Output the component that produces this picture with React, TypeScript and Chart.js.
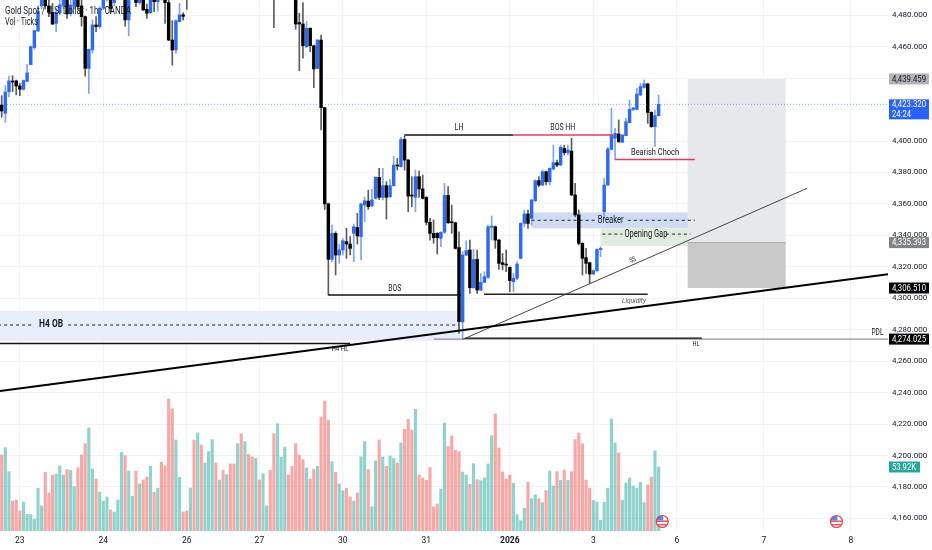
import React, { useEffect, useRef } from "react";
import { Chart, registerables } from "chart.js";

Chart.register(...registerables);

const opens = [4422.9,4417.6,4431.4,4438.2,4438.2,4435.0,4432.9,4437.9,4448.6,4459.4,4470.0,4485.9,4492,4485.9,4481.8,4474.8,4481.6,4486,4492,4481,4486,4491,4485.9,4479.1,4446.2,4457.9,4473.8,4472.7,4484.4,4491,4497,4488,4494,4499,4503,4477,4494,4498,4488,4494,4483.7,4481.6,4494,4488.6,4493,4490.5,4488,4464.2,4457.9,4475.9,4480.2,4492,
4490,4497,4494,4502,4498,4505,4511,4518,4514,4520,4515,4523,4518,4512,4520,4513,4522,4516,4510,4517,4511,4516,4520,4510,4500,4506,4510,4513,4507,4500,
4475.3,4474.4,4460,4471.7,4460.6,4446.2,4464.2,4421.2,4360,4324.7,4341.3,4327.5,4330.7,4336,4334.5,4341.3,4345,4339.2,4359.3,4361.8,4358.7,4363.5,4376.9,4364.2,4371.6,4364.6,4371.6,4384.7,4383.7,4401,4387.9,4365.6,4364.2,4377.3,4369.5,4364.2,4348.3,4341.3,4341.3,4338.1,4342,4365.4,4348.7,4348,4332.2,4285,4327.5,4330.7,4306.7,4324.7,4305.2,4310.1,4313.3,4345.1,4345.5,4337,4322.6,4321.5,4319.6,4310.5,4312.7,4325.4,4347.6,4353.6,4350.8,4362,4374.8,4372,4380.5,4374.1,4382.2,4386.2,4384.7,4395.3,4392.6,4393.6,4365.7,4353,4334.9,4325.8,4322.6,4315.4,4317.5,4331,4355,4372,4394.7,4401.7,4404.4,4399.2,4403.4,4411.7,4420.1,4420.1,4429.3,4434.1,4436.3,4418.2,4409.1,4416.1];
const highs = [4428.8,4435.2,4441.3,4441.5,4438.8,4436.7,4438.8,4448.8,4460.4,4470.6,4485.9,4496,4496,4492,4487.5,4484.4,4491,4497,4497,4492,4496,4496,4493,4479.5,4458.6,4477,4479.1,4485.4,4495,4503,4501,4499,4503,4507,4507,4498,4504,4503,4498,4498,4487,4498,4498,4497,4498,4494,4490,4476.5,4477,4487.5,4481.6,4494,
4500,4499,4506,4504,4509,4515,4522,4521,4524,4523,4527,4526,4520,4524,4523,4527,4525,4519,4521,4520,4519,4524,4522,4513,4510,4514,4517,4516,4509,4503,
4481.2,4488,4475.9,4472,4461,4464.6,4467.4,4421.5,4360.5,4346.6,4342.3,4334.5,4338,4344.5,4339.2,4347.2,4354,4360.5,4364.2,4368.8,4369.2,4377.3,4382.6,4382.6,4374.1,4375.6,4390.4,4389,4402.3,4403,4388.3,4377.3,4381.5,4380.9,4378.4,4364.6,4350.8,4349.8,4341.7,4342.3,4373.1,4371,4359.3,4348.4,4342.3,4329.6,4336.6,4337,4331,4330.7,4315.8,4316.9,4346.6,4352.3,4346,4337.5,4328.5,4330.7,4320,4315.8,4323.3,4348,4356.1,4356.1,4362.9,4375.2,4377.3,4381.6,4380.9,4383,4397.4,4387.9,4397.4,4397.4,4397.4,4401.7,4373.1,4356.1,4335.3,4331.7,4323,4318,4331.4,4332.8,4376.2,4396,4420.8,4408,4413.4,4404.2,4414.4,4426,4421.4,4433.5,4436.7,4438.8,4436.7,4418.6,4419.7,4429.3];
const lows = [4415.1,4411.9,4428.2,4431.4,4429.3,4428.9,4432.4,4437.7,4448.5,4458.3,4469.6,4484,4484,4479.1,4474,4469.6,4480.2,4484,4478,4479.5,4484,4483.7,4473.1,4441.3,4430.3,4455.8,4469.6,4471.7,4483.5,4489,4481.2,4486,4492,4497,4473.1,4466.8,4492,4485.4,4487,4483,4478,4481,4482.3,4482.5,4489.7,4474.8,4463.8,4448.3,4455.8,4475.7,4476.9,4483.7,
4491,4492,4492,4496,4497,4503,4509,4511,4512,4512,4513,4516,4509,4510,4510,4511,4513,4507,4508,4508,4509,4514,4505,4472,4497,4504,4508,4504,4495,4471,
4444.7,4452.6,4459.4,4456.8,4433.9,4445.8,4407,4356.5,4302,4323.3,4314.8,4322.2,4327.5,4325.4,4327.5,4323.3,4334.5,4324.3,4348.7,4356.5,4358.2,4363.1,4362.9,4362.5,4350.4,4364.2,4371.2,4381.5,4383.3,4381.5,4355,4358.2,4355,4364.2,4363.1,4346.6,4337,4335,4328.1,4332.8,4341.3,4347.6,4341.3,4331.3,4277.7,4274,4327,4303.1,4306.3,4303.1,4304.8,4309.9,4312.6,4337,4331.7,4318.4,4318,4316.9,4304.2,4304.2,4311.6,4325,4345.5,4344.4,4346.6,4361.6,4371,4371.6,4372,4372,4381.5,4383.7,4384.3,4391.1,4391.1,4365.2,4351.9,4333.9,4314.8,4315.8,4309.5,4315,4317,4326.4,4350.8,4371.6,4394.3,4388.3,4399,4399,4403.2,4411.3,4419.3,4419.7,4428.8,4433.5,4411.2,4408.7,4396.4,4415.7];
const closes = [4419.1,4431.2,4438.2,4437.5,4435.0,4432.9,4438.4,4443.3,4460.0,4470.2,4482.3,4492,4486,4481.8,4474.4,4481.6,4486.5,4492,4480.8,4486.5,4491,4485.4,4479.1,4446.2,4458.3,4473.8,4472.7,4484.4,4491,4498,4484.4,4494,4499,4503,4477,4494,4500,4488,4494,4483.3,4481.2,4494,4488.6,4493,4490.5,4488,4464.2,4457.9,4476.5,4480.2,4479.3,4490,
4497,4494,4502,4498,4505,4511,4518,4514,4520,4515,4523,4518,4512,4520,4513,4522,4516,4510,4517,4511,4516,4520,4510,4500,4506,4510,4513,4507,4500,4474.4,
4474.4,4460.6,4471.7,4460.6,4445.8,4464.2,4421.2,4360,4324.8,4341.3,4327.5,4330.7,4336.6,4334.5,4331.7,4345.5,4339.6,4360,4362,4358.2,4362.5,4376.9,4364.2,4371.6,4364.2,4371.6,4384.7,4384.1,4401,4387.9,4365,4365,4377.3,4369.5,4363.5,4348.3,4341.3,4338.5,4338.5,4342,4365.4,4348,4348,4331.7,4285.1,4327.5,4330.3,4306.7,4324.7,4305.2,4310.1,4313.7,4345.5,4345.9,4337,4322.2,4321.5,4321.1,4311.2,4312.7,4321.8,4347.6,4353.6,4347.6,4362.5,4374.8,4372,4380.5,4374.1,4382.6,4386.2,4384.7,4396,4392.6,4394.3,4365.7,4353,4334.9,4325.4,4322.2,4315.4,4317.5,4331,4331.7,4372,4394.9,4403.8,4404.9,4399.6,4403.8,4412.3,4420.1,4421,4429.9,4434.6,4436.3,4418.2,4409.1,4416.1,4423.32];
const volumes = [64.0,70.2,50.0,25.3,26.1,16.9,24.4,14.0,14.0,9.8,36.0,21.1,49.4,32.0,46.9,48.0,54.8,47.2,51.7,51.1,37.4,53.4,64.0,73.6,86.8,52.2,43.8,32.9,25.0,28.7,17.7,16.0,26.1,66.3,63.5,50.6,29.2,50.6,39.6,43.0,45.5,54.5,32.6,36.0,57.9,54.8,111.2,102.8,76.7,45.2,16.0,16.9,36.2,76.7,82.6,72.5,57.3,66.9,77.0,57.3,43.0,51.1,47.5,56.5,56.5,73.6,82.0,75.3,64.6,62.4,61.2,43.0,48.3,21.1,51.1,82.0,90.4,62.4,70.8,47.2,54.5,73.6,64.0,60.1,53.1,43.8,52.2,54.5,96.1,109.3,93.5,58.4,49.4,39.6,34.0,36.0,28.7,25.3,32.0,62.6,75.3,51.7,20.5,59.0,76.7,62.4,54.5,63.2,61.2,57.3,74.2,85.7,94.1,85.1,102.5,47.2,44.7,42.7,53.4,20.2,22.8,35.4,91.0,71.3,80.1,68.0,66.9,49.7,47.2,39.3,56.7,43.3,42.4,44.7,56.5,80.3,98.6,69.9,49.7,43.8,47.2,40.2,13.8,8.7,19.1,41.0,27.2,30.6,27.2,23.9,34.0,50.6,37.9,50.0,42.7,51.4,42.7,50.0,77.0,82.6,73.6,43.0,36.0,25.8,24.4,9.0,24.2,36.0,94.4,74.2,65.7,25.8,40.4,44.7,37.9,36.2,41.0,23.9,38.8,45.5,67.4,53.92];

const xTickValues = [5, 28, 51, 71, 94, 117, 140, 163, 186, 210, 234];
const xTickLabels = ["23", "24", "26", "27", "30", "31", "2026", "3", "6", "7", "8"];
const yTickValues = [4160,4180,4200,4220,4240,4260,4280,4300,4320,4340,4360,4380,4400,4420,4440,4460,4480];
const flagBars = [182, 230];

const BLUE = "#2962ff";
const TEXT = "#131722";
const RED_LINE = "#e23c5c";
const FONT = "Roboto, sans-serif";

// Drawings, all in chart values: bar index and price.
const rects = [
  { x1: -1, x2: 126.2, p1: 4291.9, p2: 4273, fill: "#e6eefb" },
  { x1: 146, x2: 191, p1: 4354.6, p2: 4344.5, fill: "#cfdcf6" },
  { x1: 165, x2: 189.8, p1: 4344.5, p2: 4333.2, fill: "#dfeedc" },
  { x1: 189, x2: 216, p1: 4439.459, p2: 4335.393, fill: "#e6e8eb" },
  { x1: 189, x2: 216, p1: 4335.393, p2: 4306.51, fill: "#c9c9c9" },
];
const lines = [
  { x1: -1, p1: 4423.32, x2: 245, p2: 4423.32, color: "rgba(41,98,255,0.6)", w: 1, dash: [1, 2] },
  { x1: -1, p1: 4283, x2: 8.4, p2: 4283, color: "#222", w: 1, dash: [3, 3] },
  { x1: 18.3, p1: 4283, x2: 126, p2: 4283, color: "#222", w: 1, dash: [3, 3] },
  { x1: 146, p1: 4349.6, x2: 163.5, p2: 4349.6, color: "#222", w: 1, dash: [3, 3] },
  { x1: 172.5, p1: 4349.6, x2: 191, p2: 4349.6, color: "#222", w: 1, dash: [3, 3] },
  { x1: 165.5, p1: 4340.8, x2: 171, p2: 4340.8, color: "#222", w: 1, dash: [3, 3] },
  { x1: 183, p1: 4340.8, x2: 189.8, p2: 4340.8, color: "#222", w: 1, dash: [3, 3] },
  { x1: 189, p1: 4335.393, x2: 216, p2: 4335.393, color: "#a9a9a9", w: 1 },
  { x1: -1, p1: 4271.3, x2: 96, p2: 4271.3, color: "#111", w: 1.5 },
  { x1: -0.47, p1: 4241, x2: 244.2, p2: 4315.2, color: "#000", w: 2 },
  { x1: 127.1, p1: 4273.9, x2: 221.9, p2: 4369.9, color: "#444", w: 1 },
  { x1: 90, p1: 4302, x2: 126.5, p2: 4302, color: "#111", w: 1.5 },
  { x1: 110.9, p1: 4403.8, x2: 140.9, p2: 4403.8, color: "#111", w: 1.5 },
  { x1: 140.9, p1: 4403.8, x2: 168.5, p2: 4403.8, color: RED_LINE, w: 1.5 },
  { x1: 169, p1: 4388.3, x2: 191, p2: 4388.3, color: RED_LINE, w: 1.5 },
  { x1: 132.9, p1: 4302.5, x2: 178, p2: 4302.5, color: "#222", w: 1.5 },
  { x1: 119.1, p1: 4274.025, x2: 245, p2: 4274.025, color: "#777", w: 1 },
  { x1: 127.6, p1: 4274.5, x2: 192.9, p2: 4274.5, color: "#111", w: 1.5 },
];
const notes = [
  { t: "H4 OB", x: 13.6, p: 4283, font: "bold 10px " + FONT, w: 24 },
  { t: "H4 HL", x: 93.2, p: 4267.4, font: "7.5px " + FONT, w: 17 },
  { t: "BOS", x: 108.3, p: 4305.9, font: "9px " + FONT, w: 13 },
  { t: "LH", x: 126, p: 4408.3, font: "9px " + FONT, w: 9 },
  { t: "BOS HH", x: 154.6, p: 4408.3, font: "9px " + FONT, w: 25 },
  { t: "Bearish Choch", x: 180, p: 4392.6, font: "9.5px " + FONT, w: 48 },
  { t: "Breaker", x: 167.8, p: 4349.6, font: "10px " + FONT, w: 26 },
  { t: "Opening Gap", x: 177.5, p: 4340.8, font: "10px " + FONT, w: 43 },
  { t: "Liquidity", x: 174.2, p: 4298.4, font: "italic 8px " + FONT, w: 24, color: "#555" },
  { t: "HL", x: 191.3, p: 4270.7, font: "7.5px " + FONT, w: 7 },
  { t: "PDL", x: 241.3, p: 4277.9, font: "9px " + FONT, w: 12 },
  { t: "SS", x: 173.9, p: 4324.3, font: "7px " + FONT, w: 6, angle: -24 },
];
const badges = [
  { t: "4,439.459", p: 4439.459, bg: "#b4b4b6", fg: TEXT },
  { t: "4,335.393", p: 4335.393, bg: "#808285", fg: "#fff" },
  { t: "4,306.510", p: 4306.51, bg: "#000", fg: "#fff" },
  { t: "4,274.025", p: 4274.025, bg: "#000", fg: "#fff" },
];
const lastPriceBadge = { t: "4,423.320", sub: "24:24", p: 4423.32 };
const lastVolumeBadge = { t: "53.92K", v: 53.92 };
const legendLines = [
  { t: "Gold Spot / U.S. Dollar \u00b7 1h \u00b7 OANDA", w: 126 },
  { t: "Vol \u00b7 Ticks", w: 33 },
];

const up = (i: number) => closes[i] >= opens[i];

const noPadding = (s: any) => {
  s.paddingTop = 0;
  s.paddingBottom = 0;
  s.paddingLeft = 0;
  s.paddingRight = 0;
};

const drawings = {
  id: "drawings",
  beforeDatasetsDraw(chart: any) {
    const { ctx, chartArea: a, scales } = chart;
    ctx.save();
    ctx.beginPath();
    ctx.rect(a.left, a.top, a.width, a.height);
    ctx.clip();
    for (const r of rects) {
      const x1 = scales.x.getPixelForValue(r.x1);
      const x2 = scales.x.getPixelForValue(r.x2);
      const y1 = scales.y.getPixelForValue(r.p1);
      const y2 = scales.y.getPixelForValue(r.p2);
      ctx.fillStyle = r.fill;
      ctx.fillRect(x1, y1, x2 - x1, y2 - y1);
    }
    ctx.restore();
  },
  afterDraw(chart: any) {
    const { ctx, chartArea: a, scales } = chart;
    ctx.save();
    ctx.textBaseline = "middle";
    ctx.textAlign = "center";
    for (const n of notes) {
      ctx.save();
      ctx.translate(scales.x.getPixelForValue(n.x), scales.y.getPixelForValue(n.p));
      if ((n as any).angle) ctx.rotate(((n as any).angle * Math.PI) / 180);
      ctx.font = n.font;
      ctx.fillStyle = (n as any).color || TEXT;
      ctx.fillText(n.t, 0, 0, n.w);
      ctx.restore();
    }
    // legend
    ctx.textAlign = "left";
    ctx.font = "10px " + FONT;
    ctx.fillStyle = TEXT;
    legendLines.forEach((l, i) => ctx.fillText(l.t, 5, 11 + i * 11.5, l.w));

    // event flags
    const flagY = a.bottom - 9.5;
    for (const f of flagBars) {
      const cx = scales.x.getPixelForValue(f);
      ctx.save();
      ctx.beginPath();
      ctx.arc(cx, flagY, 6, 0, Math.PI * 2);
      ctx.fillStyle = "#fff";
      ctx.fill();
      ctx.clip();
      ctx.fillStyle = "#ec5a60";
      ctx.fillRect(cx - 6, flagY - 1, 12, 1.6);
      ctx.fillRect(cx - 6, flagY + 2.4, 12, 1.6);
      ctx.fillStyle = "#4c8cf0";
      ctx.fillRect(cx - 6, flagY - 6, 7, 5);
      ctx.restore();
      ctx.beginPath();
      ctx.arc(cx, flagY, 6, 0, Math.PI * 2);
      ctx.strokeStyle = "#e4434b";
      ctx.lineWidth = 1.2;
      ctx.stroke();
    }

    // price axis badges
    const bx = a.right + 1;
    const bw = 40;
    const tx = a.right + 4;
    const tw = 34;
    ctx.font = "9px " + FONT;
    for (const b of badges) {
      const y = scales.y.getPixelForValue(b.p);
      ctx.fillStyle = b.bg;
      ctx.fillRect(bx, y - 5.5, bw, 11);
      ctx.fillStyle = b.fg;
      ctx.fillText(b.t, tx, y + 0.5, tw);
    }
    const ly = scales.y.getPixelForValue(lastPriceBadge.p);
    ctx.fillStyle = BLUE;
    ctx.fillRect(bx, ly - 5, bw, 20);
    ctx.fillStyle = "#fff";
    ctx.fillText(lastPriceBadge.t, tx, ly + 0.5, tw);
    ctx.fillText(lastPriceBadge.sub, tx, ly + 10, 19);
    const vy = scales.vol.getPixelForValue(lastVolumeBadge.v);
    ctx.fillStyle = "#26a69a";
    ctx.fillRect(bx, vy - 5.5, 31, 11);
    ctx.fillStyle = "#fff";
    ctx.fillText(lastVolumeBadge.t, tx, vy + 0.5, 24);
    ctx.restore();
  },
};

export default function App() {
  const ref = useRef<HTMLCanvasElement>(null);
  useEffect(() => {
    const bars = (thickness: number) => ({
      type: "bar" as const,
      grouped: false,
      barThickness: thickness,
      maxBarThickness: thickness,
      barPercentage: 1,
      categoryPercentage: 1,
      borderWidth: 0,
    });
    const idx = opens.map((_, i) => i);
    const chart = new Chart(ref.current!, {
      type: "bar",
      data: {
        datasets: [
          ...lines.map((l) => ({
            type: "line" as const,
            data: [{ x: l.x1, y: l.p1 }, { x: l.x2, y: l.p2 }],
            borderColor: l.color,
            borderWidth: l.w,
            borderDash: l.dash || [],
            pointRadius: 0,
            tension: 0,
            fill: false,
            order: 0,
            xAxisID: "x",
            yAxisID: "y",
          })),
          {
            ...bars(2.8),
            order: 1,
            xAxisID: "x",
            yAxisID: "y",
            minBarLength: 1,
            data: idx.map((i) => ({ x: i, y: [opens[i], closes[i]] })),
            backgroundColor: idx.map((i) => (up(i) ? "#2f69ee" : "#000")),
          },
          {
            ...bars(1),
            order: 2,
            xAxisID: "x",
            yAxisID: "y",
            data: idx.map((i) => ({ x: i, y: [lows[i], highs[i]] })),
            backgroundColor: idx.map((i) => (up(i) ? "#7fa3f5" : "#5c5c5c")),
          },
          {
            ...bars(2.5),
            order: 3,
            xAxisID: "x",
            yAxisID: "vol",
            data: idx.map((i) => ({ x: i, y: volumes[i] })),
            backgroundColor: idx.map((i) => (up(i) ? "rgba(38,166,154,0.5)" : "rgba(239,83,80,0.5)")),
          },
        ] as any,
      },
      options: {
        animation: false,
        responsive: false,
        maintainAspectRatio: false,
        devicePixelRatio: 1,
        layout: { padding: 0 },
        plugins: { legend: { display: false }, tooltip: { enabled: false }, title: { display: false } },
        scales: {
          x: {
            type: "linear",
            position: "bottom",
            offset: false,
            min: -0.47,
            max: 244.2,
            border: { display: false },
            grid: { color: "#f1f3f7", offset: false, drawTicks: false },
            afterBuildTicks: (s: any) => {
              s.ticks = xTickValues.map((value) => ({ value }));
            },
            afterFit: (s: any) => {
              s.height = 19;
              noPadding(s);
            },
            ticks: {
              autoSkip: false,
              maxRotation: 0,
              minRotation: 0,
              padding: 5,
              color: TEXT,
              font: (c: any) => ({ family: FONT, size: 8.5, weight: c.tick && c.tick.label === "2026" ? "bold" : "normal" }),
              callback: (v: any) => {
                const i = xTickValues.indexOf(Number(v));
                return i >= 0 ? xTickLabels[i] : "";
              },
            },
          },
          y: {
            type: "linear",
            position: "right",
            min: 4151.99,
            max: 4489.67,
            border: { display: false },
            grid: { color: "#f1f3f7", drawTicks: false },
            afterBuildTicks: (s: any) => {
              s.ticks = yTickValues.map((value) => ({ value }));
            },
            afterFit: (s: any) => {
              s.width = 44;
              noPadding(s);
            },
            ticks: {
              autoSkip: false,
              padding: 4,
              color: TEXT,
              font: { family: FONT, size: 8 },
              callback: (v: any) =>
                Number(v).toLocaleString("en-US", { minimumFractionDigits: 3, maximumFractionDigits: 3 }),
            },
          },
          vol: { type: "linear", display: false, min: 0, max: 447.4, grid: { display: false } },
        } as any,
      },
      plugins: [drawings],
    });
    return () => chart.destroy();
  }, []);
  return (
    <div style={{ position: "absolute", left: 0, top: 0, width: 932, height: 550, background: "#fff" }}>
      <canvas ref={ref} width={932} height={550} style={{ display: "block", width: 932, height: 550 }} />
    </div>
  );
}
